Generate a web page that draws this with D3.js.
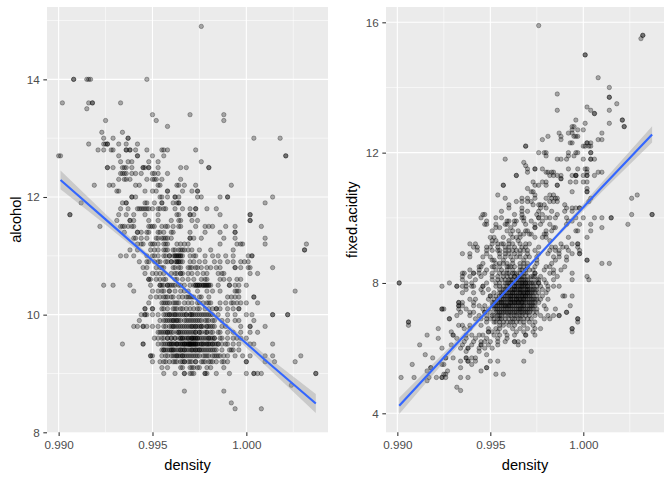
<!DOCTYPE html>
<html><head><meta charset="utf-8">
<script src="https://cdn.jsdelivr.net/npm/d3@7"></script>
<style>html,body{margin:0;padding:0;background:#fff}svg{display:block}text{font-family:"Liberation Sans",Arial,sans-serif}</style>
</head><body><div id="chart"></div>
<script>
const alcoholLevels=[14.9,14.0,13.6,13.5,13.4,13.3,13.2,13.1,13.0,12.9,12.8,12.7,12.6,12.5,12.4,12.3,12.2,12.1,12.0,11.9,11.8,11.7,11.6,11.5,11.4,11.3,11.2,11.1,11.0,10.9,10.8,10.7,10.6,10.5,10.4,10.3,10.2,10.1,10.0,9.9,9.8,9.7,9.6,9.5,9.4,9.3,9.2,9.1,9.0,8.8,8.7,8.5,8.4,
9.5,9.6,9.4,9.3,9.7,9.8,9.9,10.0,10.5,11.0,10.9,
9.5,9.6,9.4,9.7,9.8,10.0,10.5,9.2,9.3,11.0,10.9,9.9,10.1,10.2,10.3];
const alcoholDensities=[
[.9976],
[.9908,.9908,.9915,.9916,.9917,.9947],
[.9902,.9916,.9918,.9918,.9933],
[.9915],
[.9950,.9970,.9988],
[.9925,.9952,.9988],
[.9958],
[.9923,.9934],
[.9924,.9929,.9937,.9937,1.0004,1.0018],
[.9916,.9924,.9925,.9926,.9926,.9932,.9936,.9942],
[.9921,.9924,.9928,.9929,.9936,.9936,.9938,.9938,.9941,.9947,.9955,.9956,.9958,.9973],
[.9900,.9901,.9932,.9942,.9942,.9950,.9956,1.0021,1.0021],
[.9933,.9937,.9939,.9948,.9953,.9976],
[.9926,.9926,.9929,.9934,.9935,.9936,.9939,.9945,.9945,.9946,.9948,.9948,.9953,.9965,.9968,.9980,.9980],
[.9933,.9934,.9935,.9936,.9939,.9941,.9944,.9950,.9951,.9953,.9958],
[.9932,.9935,.9936,.9938,.9947,.9950,.9951,.9952,.9955,.9965],
[.9919,.9927,.9929,.9941,.9943,.9953,.9954,.9963,.9964,.9967,.9973,.9992],
[.9931,.9932,.9946,.9950,.9952,.9958,.9958,.9966,.9971,.9974,.9974],
[.9939,.9939,.9941,.9954,.9955,.9958,.9962,.9962,.9964,.9974,.9976,.9986,.9990,.9990,1.0014],
[.9912,.9934,.9936,.9936,.9946,.9947,.9951,.9955,.9955,.9961,.9963,.9964,.9964,1.0010],
[.9933,.9937,.9942,.9943,.9944,.9945,.9946,.9947,.9948,.9950,.9953,.9954,.9956,.9957,.9962,.9966,.9970,.9973,.9973,.9979,.9984],
[.9906,.9906,.9932,.9936,.9940,.9946,.9953,.9963,.9964,.9970,.9970,.9972,.9986,1.0002,1.0002],
[.9931,.9938,.9938,.9940,.9948,.9953,.9960,.9964,.9965,.9971,.9974,1.0002,1.0002],
[.9922,.9933,.9934,.9935,.9937,.9939,.9940,.9948,.9949,.9950,.9951,.9955,.9957,.9958,.9961,.9964,.9965,.9973,.9978,.9980,.9982,.9989,.9994,1.0008],
[.9935,.9942,.9942,.9944,.9947,.9948,.9953,.9954,.9956,.9960,.9961,.9970,.9978,.9986,.9994,.9994],
[.9940,.9941,.9944,.9947,.9952,.9953,.9955,.9956,.9957,.9958,.9960,.9970,.9970,.9972,.9976,.9988,.9994,1.0010],
[.9942,.9944,.9945,.9949,.9950,.9951,.9953,.9956,.9957,.9958,.9963,.9965,.9967,.9969,.9986,.9995,.9997,.9998,1.0010,1.0032],
[.9938,.9942,.9949,.9951,.9953,.9956,.9957,.9958,.9961,.9962,.9964,.9965,.9966,.9967,.9969,.9971,.9975,.9981,.9993,1.0031,1.0031],
[.9933,.9936,.9940,.9947,.9950,.9951,.9953,.9956,.9957,.9959,.9961,.9962,.9963,.9964,.9965,.9966,.9970,.9972,.9973,.9978,.9982,.9985,.9989,.9993,1.0001,1.0003,1.0003],
[.9943,.9947,.9948,.9951,.9953,.9954,.9957,.9958,.9960,.9962,.9963,.9964,.9965,.9966,.9970,.9972,.9975,.9978,.9983,.9986,.9990,.9993,.9997,.9999,1.0001],
[.9945,.9947,.9952,.9954,.9955,.9956,.9961,.9962,.9964,.9965,.9969,.9970,.9971,.9973,.9974,.9976,.9979,.9981,.9984,.9986,.9994,.9994,.9997,1.0001,1.0002,1.0014],
[.9946,.9950,.9952,.9954,.9956,.9960,.9962,.9963,.9965,.9965,.9966,.9969,.9971,.9974,.9977,.9979,.9985,.9987,.9988,1.0002,1.0006],
[.9948,.9948,.9949,.9952,.9954,.9956,.9957,.9962,.9963,.9966,.9969,.9972,.9976,.9978,.9979,.9986,.9988,.9991,.9995,.9997],
[.9924,.9929,.9938,.9949,.9954,.9954,.9956,.9958,.9959,.9961,.9962,.9964,.9965,.9967,.9972,.9973,.9974,.9975,.9977,.9978,.9979,.9980,.9981,.9985,.9991,.9991,.9994,.9996,1.0000],
[.9940,.9950,.9953,.9955,.9956,.9959,.9959,.9962,.9965,.9967,.9969,.9974,.9979,.9982,.9986,.9994,.9995,.9996,1.0026],
[.9949,.9952,.9954,.9956,.9958,.9961,.9964,.9966,.9969,.9971,.9972,.9975,.9980,.9990,.9992,.9994,.9996,1.0004,1.0004],
[.9948,.9955,.9956,.9957,.9958,.9961,.9962,.9964,.9967,.9971,.9974,.9977,.9979,.9981,.9986,.9989,.9992,.9993,.9995,.9997,1.0000,1.0006],
[.9946,.9946,.9950,.9950,.9955,.9956,.9961,.9963,.9965,.9968,.9970,.9972,.9975,.9978,.9980,.9982,.9984,.9984,.9986,.9990,.9993,.9996,.9996],
[.9944,.9946,.9946,.9947,.9950,.9953,.9956,.9957,.9959,.9961,.9962,.9964,.9966,.9968,.9970,.9970,.9971,.9973,.9975,.9977,.9979,.9980,.9982,.9985,.9990,.9994,1.0000,1.0003,1.0014,1.0014,1.0022,1.0022],
[.9943,.9954,.9956,.9957,.9959,.9961,.9962,.9963,.9965,.9968,.9971,.9973,.9975,.9978,.9980,.9982,.9983,.9987,.9990,.9994,.9996,1.0004],
[.9940,.9942,.9945,.9945,.9947,.9950,.9953,.9956,.9959,.9961,.9961,.9963,.9965,.9967,.9969,.9971,.9973,.9974,.9976,.9979,.9981,.9983,.9987,.9989,.9997,1.0002,1.0002,1.0010],
[.9953,.9954,.9956,.9958,.9958,.9960,.9964,.9964,.9966,.9969,.9971,.9973,.9975,.9979,.9981,.9985,.9986,.9990,.9993,.9997,1.0002,1.0006],
[.9951,.9953,.9955,.9958,.9960,.9962,.9965,.9966,.9969,.9971,.9971,.9972,.9973,.9974,.9978,.9980,.9981,.9983,.9986,.9987,.9990,.9993,.9995,.9997,1.0000],
[.9934,.9945,.9945,.9953,.9955,.9956,.9958,.9959,.9960,.9962,.9963,.9965,.9966,.9967,.9969,.9970,.9970,.9971,.9972,.9973,.9974,.9976,.9977,.9979,.9980,.9982,.9983,.9985,.9987,.9989,.9990,.9993,.9996,1.0002,1.0004,1.0014],
[.9955,.9956,.9956,.9959,.9960,.9961,.9963,.9965,.9966,.9967,.9969,.9971,.9973,.9974,.9975,.9977,.9979,.9982,.9984,.9987,.9991,.9992,.9993,.9996],
[.9949,.9949,.9950,.9955,.9957,.9958,.9962,.9963,.9963,.9965,.9966,.9968,.9971,.9973,.9975,.9978,.9980,.9982,.9984,.9986,.9988,.9990,.9994,.9998,1.0002,1.0010,1.0014,1.0029],
[.9950,.9954,.9956,.9957,.9959,.9961,.9963,.9965,.9967,.9967,.9969,.9971,.9973,.9976,.9978,.9980,.9982,.9984,.9987,.9988,.9990,1.0000,1.0000,1.0010,1.0015,1.0026],
[.9955,.9958,.9965,.9966,.9970,.9971,.9972,.9974,.9975,.9979,.9981,.9988],
[.9956,.9962,.9967,.9967,.9970,.9971,.9972,.9978,.9978,.9979,.9984,.9991,1.0000,1.0004,1.0004,1.0006,1.0008,1.0037,1.0037],
[1.0024],
[.9967,.9988],
[.9992],
[.9994,1.0008],
[.9963,.9965,.9967,.9968,.9969,.9970,.9971,.9972,.9973,.9975,.9977,.9978,.9980,.9982,.9985,.9959,.9961],
[.9964,.9966,.9968,.9970,.9972,.9974,.9976,.9979,.9983,.9956,.9960],
[.9964,.9967,.9970,.9972,.9975,.9978,.9981,.9962,.9958],
[.9960,.9964,.9967,.9969,.9972,.9977,.9985],
[.9963,.9968,.9972,.9975,.9978,.9959,.9955],
[.9962,.9966,.9970,.9975,.9972,.9977,.9957,.9980],
[.9960,.9964,.9969,.9972,.9976,.9979,.9958],
[.9960,.9963,.9967,.9972,.9976,.9981,.9958],
[.9973,.9975,.9977,.9979,.9955,.9960],
[.9962,.9964,.9959],
[.9963,.9960],
[.9961,.9964,.9966,.9968,.9969,.9970,.9971,.9972,.9973,.9974,.9976,.9979,.9981,.9984,.9957,.9960,.9963,.9967],
[.9962,.9965,.9967,.9969,.9971,.9973,.9975,.9977,.9980,.9982,.9958],
[.9961,.9965,.9968,.9971,.9973,.9976,.9980,.9983,.9957,.9960],
[.9961,.9965,.9967,.9970,.9973,.9976,.9979,.9982,.9957],
[.9960,.9964,.9968,.9971,.9973,.9976,.9979,.9982],
[.9959,.9962,.9965,.9968,.9971,.9974,.9978],
[.9970,.9974,.9976,.9978,.9980,.9958],
[.9966,.9970,.9973,.9977,.9981,.9962],
[.9961,.9966,.9970,.9974,.9979,.9983],
[.9963,.9965],
[.9964],
[.9961,.9963,.9967,.9970,.9974],
[.9958,.9962,.9966,.9974],
[.9959,.9963,.9969,.9980,.9975],
[.9957,.9960,.9968,.9970,.9976]
];
const acidityLevels=[15.9,15.6,15.5,15.0,14.3,14.0,13.8,13.7,13.5,13.4,13.3,13.2,13.0,12.9,12.8,12.7,12.6,12.5,12.4,12.3,12.2,12.0,11.9,11.8,11.7,11.6,11.5,11.4,11.3,11.2,11.1,11.0,10.9,10.8,10.7,10.6,10.5,10.4,10.3,10.2,10.1,10.0,9.9,9.8,9.7,9.6,9.5,9.4,9.3,9.2,9.1,9.0,8.9,8.8,8.7,8.6,8.5,8.4,8.3,8.2,8.1,8.0,7.9,7.8,7.7,7.6,7.5,7.4,7.3,7.2,7.1,7.0,6.9,6.8,6.7,6.6,6.5,6.4,6.3,6.2,6.1,6.0,5.9,5.8,5.7,5.6,5.5,5.4,5.3,5.2,5.1,5.0,4.8,4.7,
8.2,8.1,8.0,7.9,7.8,7.7,7.6,7.5,7.4,7.3,7.2,7.1,7.0,6.9,6.8,8.3,8.4,8.5,8.6,8.8,9.0,9.2,
8.0,7.9,7.8,7.7,7.6,7.5,7.4,7.3,7.2,7.1,8.1,8.2,8.3,8.5,8.9,9.1];
const acidityDensities=[
[.9976],[1.0032,1.0032],[1.0031],[1.0001,1.0001],[1.0008],[1.0014],[.9986],[1.0014,1.0014],[1.0018],[1.0002],
[1.0014,.9986,1.0004],[1.0006,1.0006],[1.0021,1.0021,.9996],[1.0014,1.0001],
[.9994,.9995,1.0022,1.0022],[.9994,.9997,1.0000],[1.0010,.9987,.9992,.9994],[.9988,.9995,.9996,.9997,.9981],
[.9978,.9988,1.0008,1.0010],[.9993,.9994,1.0002,1.0002,1.0004],[.9969,.9969,1.0000,1.0001,1.0003,1.0004],
[.9976,.9979,.9980,.9992,.9996,.9997,1.0004,1.0004],[.9980,.9992,.9995],
[.9958,.9986,.9988,.9991,1.0006,1.0000,1.0004,1.0004],[.9968],[.9969],
[.9970,.9974,.9974,.9978,.9992,1.0001,1.0002,.9997],
[.9970,.9980,.9981,.9983,.9984,1.0002,1.0008,1.0010],
[.9982,.9986,.9984,.9988,.9996,.9996,.9996,1.0000,1.0002,1.0002,.9964,.9964,.9994,1.0006],
[.9988,.9988],
[.9973,.9978,.9980,.9993,.9996,1.0000,1.0002],
[.9957,.9957,.9974,.9976,.9980,.9986,.9986],
[.9970,1.0002],
[.9972,.9973,.9994,1.0002,1.0002],
[.9954,.9974,.9982,.9984,1.0029],
[.9958,.9967,.9974,.9970,.9980,.9983,.9985,.9986,1.0004,1.0026],
[.9964,.9967,.9970,.9972,.9982,.9984,.9986,1.0003],
[.9960,.9973,.9976,.9977,.9979,.9990],
[.9960,.9967,.9977,.9980,.9991,.9994,.9996,.9998,.9998],
[.9956,.9967,.9970,.9976,.9983,.9990,.9994],
[.9947,.9946,.9963,.9967,.9975,.9978,.9986,1.0026,1.0037,1.0037],
[.9945,.9953,.9956,.9967,.9968,.9976,.9976,.9980,.9982,.9985,.9991,.9996,1.0000,1.0006,1.0010,1.0015,1.0015],
[.9948,.9959,.9960,.9963,.9964,.9968,.9972,.9978,.9992,.9994],
[.9947,.9948,.9953,.9958,.9959,.9963,.9969,.9974,.9977,.9982,.9991,.9998,1.0004,1.0024],
[1.0010,.9953,.9955,.9961,.9974,.9974,.9984,.9985],
[.9951,.9959,.9962,.9965,.9969,.9970,.9980,.9983,.9996,.9997,1.0004],
[.9961,.9966,.9968,.9971,.9972,.9979,.9980],
[.9950,.9952,.9957,.9962,.9964,.9966,.9974,.9978,.9980,.9992,1.0002],
[.9951,.9953,.9960,.9965,.9982],
[.9939,.9942,.9951,.9954,.9957,.9960,.9966,.9971,.9988,.9994,.9997,.9997],
[.9941,.9943,.9948,.9950,.9954,.9960,.9967,.9969,.9976,.9983,.9985,.9989,.9991,.9997],
[.9943,.9948,.9951,.9954,.9955,.9960,.9964,.9970,.9974,.9982,.9985,.9987,.9992,.9998],
[.9935,.9939,.9948,.9955,.9960,.9966,.9970,.9976,.9981,.9987,.9994,.9998,.9998],
[.9939,.9946,.9950,.9955,.9961,.9966,.9971,.9975,.9984,.9987,.9991],
[.9951,.9952,.9957,.9962,.9968,.9975,.9985,.9991,1.0002,1.0002],
[.9946,.9953,.9955,.9959,.9966,.9970,.9975,.9983,1.0014,1.0010],
[.9944,.9945,.9951,.9952,.9959,.9961,.9968,.9974,.9980,.9982,.9990],
[.9939,.9944,.9948,.9953,.9959,.9966,.9969,.9973,.9979,.9984,.9988],
[.9935,.9936,.9941,.9941,.9944,.9947,.9951,.9955,.9959,.9960,.9964,.9969,.9974,.9974,.9982,.9984,.9994],
[.9935,.9939,.9945,.9951,.9954,.9959,.9963,.9966,.9968,.9974,.9977,.9986,1.0002],
[.9935,.9942,.9951,.9954,.9960,.9964,.9967,.9970,.9975,.9976,.9979,.9984,.9994,1.0003],
[.9901,.9901,.9928,.9937,.9940,.9948,.9953,.9958,.9961,.9964,.9967,.9969,.9972,.9976,.9976,.9980],
[.9924,.9932,.9932,.9935,.9937,.9940,.9941,.9946,.9946,.9953,.9959,.9963,.9967,.9969,.9973,.9977,.9981,.9984,.9987],
[.9937,.9945,.9949,.9955,.9960,.9963,.9966,.9969,.9971,.9974,.9978,.9981],
[.9935,.9941,.9946,.9952,.9956,.9960,.9962,.9966,.9968,.9970,.9974,.9976,.9980],
[.9950,.9950,.9953,.9958,.9961,.9964,.9967,.9969,.9972,.9975,.9978,.9990,.9994,.9989],
[.9939,.9942,.9949,.9952,.9956,.9959,.9961,.9964,.9966,.9968,.9971,.9974,.9977,.9981],
[.9933,.9933,.9935,.9941,.9954,.9951,.9956,.9958,.9961,.9963,.9965,.9967,.9970,.9973,.9976],
[.9933,.9933,.9935,.9941,.9944,.9947,.9953,.9955,.9958,.9960,.9962,.9966,.9968,.9972,.9974,.9979,.9993],
[.9924,.9924,.9925,.9933,.9937,.9946,.9949,.9952,.9955,.9958,.9961,.9964,.9966,.9969,.9972,.9975,.9980,.9985],
[.9934,.9939,.9941,.9947,.9947,.9953,.9956,.9959,.9962,.9965,.9968,.9971,.9975,.9991,.9991],
[.9932,.9939,.9944,.9948,.9951,.9954,.9956,.9960,.9963,.9966,.9969,.9974,.9977,.9981,.9987,.9987,.9984],
[.9928,.9928,.9942,.9945,.9948,.9950,.9954,.9956,.9958,.9962,.9965,.9968,.9972,.9979,.9982,.9997,.9997],
[.9906,.9906,.9948,.9952,.9955,.9959,.9962,.9966,.9971,.9974,.9997],
[.9906,.9933,.9939,.9935,.9945,.9955,.9957,.9960,.9963,.9968,.9973],
[.9922,.9936,.9939,.9949,.9953,.9955,.9962,.9966,.9970,.9974,.9977,.9994,.9994],
[.9929,.9949,.9949,.9951,.9954,.9958,.9964,.9968,.9973,.9994],
[.9916,.9930,.9930,.9937,.9940,.9944,.9946,.9952,.9955,.9959,.9963,.9969,.9969,.9974],
[.9922,.9932,.9937,.9942,.9948,.9954,.9959],
[.9936,.9941,.9945,.9947,.9950,.9954,.9958,.9963,.9963,.9965,.9968],
[.9912,.9929,.9935,.9940,.9945,.9945,.9949,.9954,.9965],
[.9924,.9934,.9938,.9938,.9944,.9947,.9951],
[.9972,.9937,.9944],
[.9915,.9948],
[.9919,.9930,.9937,.9937,.9940,.9942,.9926,.9926],
[.9934,.9938,.9938,.9942,.9950,.9954,.9968],
[.9908,.9924,.9940,.9925],
[.9918,.9918,.9934,.9948,.9948],
[.9916,.9927,.9945],
[.9926,.9925,.9953,.9957],
[.9934,.9902,.9909,.9921,.9924,.9924,.9926,.9938,.9917],
[.9916],[.9932],[.9934],
[.9957,.9961,.9965,.9970,.9972],
[.9956,.9962,.9966,.9969,.9972,.9958],
[.9955,.9960,.9963,.9966,.9968,.9970,.9973],
[.9957,.9961,.9964,.9966,.9968,.9970,.9972],
[.9957,.9959,.9962,.9964,.9966,.9968,.9970,.9972,.9975],
[.9955,.9958,.9961,.9963,.9965,.9967,.9969,.9971,.9973],
[.9955,.9957,.9960,.9962,.9965,.9966,.9968,.9970,.9973],
[.9954,.9957,.9960,.9962,.9965,.9967,.9969,.9972,.9975],
[.9952,.9955,.9957,.9960,.9962,.9964,.9966,.9968,.9971,.9974],
[.9951,.9954,.9957,.9959,.9961,.9964,.9967,.9970,.9973],
[.9953,.9956,.9959,.9960,.9963,.9965,.9967,.9970,.9973],
[.9950,.9954,.9957,.9960,.9963,.9966,.9969,.9973],
[.9952,.9955,.9958,.9961,.9964,.9967,.9971],
[.9952,.9955,.9960,.9963,.9966,.9970],
[.9953,.9957,.9961,.9964,.9968],
[.9957,.9962,.9966],
[.9956,.9962,.9967,.9971],
[.9955,.9963,.9970],
[.9957,.9962,.9968],
[.9958,.9964,.9969],
[.9958,.9962,.9966,.9968],
[.9956,.9962,.9969],
[.9962,.9965,.9967,.9969,.9971,.9974,.9959],
[.9960,.9963,.9965,.9967,.9970,.9975,.9955],
[.9958,.9961,.9963,.9965,.9967,.9970,.9973],
[.9957,.9959,.9962,.9964,.9966,.9968,.9970,.9972],
[.9956,.9959,.9961,.9963,.9964,.9967,.9969,.9971],
[.9955,.9958,.9961,.9963,.9964,.9966,.9968,.9970,.9973],
[.9953,.9956,.9959,.9961,.9963,.9965,.9967,.9969,.9972],
[.9952,.9956,.9958,.9960,.9963,.9965,.9968,.9971],
[.9954,.9957,.9962,.9966,.9968,.9971],
[.9955,.9958,.9961,.9964,.9967,.9970],
[.9961,.9965,.9968],
[.9963,.9967,.9973],
[.9963,.9968],
[.9960,.9966],
[.9963,.9958],
[.9963,.9958]
];
const fitDensity=[.9901,.9925,.9950,.9967,.9985,1.0010,1.0037];
const alcoholFit=[12.29,11.62,10.92,10.44,9.93,9.23,8.49];
const alcoholLow=[12.13,11.53,10.88,10.41,9.89,9.14,8.33];
const alcoholHigh=[12.45,11.71,10.96,10.47,9.97,9.32,8.65];
const acidityFit=[4.23,5.71,7.24,8.29,9.40,10.94,12.56];
const acidityLow=[3.98,5.57,7.18,8.24,9.34,10.80,12.31];
const acidityHigh=[4.48,5.85,7.30,8.34,9.46,11.08,12.81];
const densityTicks=[.990,.995,1.000];
const densityMinor=[.9925,.9975,1.0025];
const alcoholTicks=[8,10,12,14];
const alcoholMinor=[9,11,13,15];
const acidityTicks=[4,8,12,16];
const acidityMinor=[6,10,14];

const svg=d3.select("#chart").append("svg").attr("width",672).attr("height",480);
svg.append("rect").attr("width",672).attr("height",480).attr("fill","#fff");

function panel(o){
  const x=d3.scaleLinear().domain(o.xDomain).range([o.left,o.right]);
  const y=d3.scaleLinear().domain(o.yDomain).range([432.3,7]);
  const g=svg.append("g");
  g.append("rect").attr("x",o.left).attr("y",7).attr("width",o.right-o.left).attr("height",425.3).attr("fill","#EBEBEB");
  const grid=(vals,w)=>{
    g.append("g").selectAll("line").data(vals.filter(v=>y(v)>7&&y(v)<432.3)).join("line")
      .attr("x1",o.left).attr("x2",o.right).attr("y1",d=>y(d)).attr("y2",d=>y(d)).attr("stroke","#fff").attr("stroke-width",w);
  };
  const gridX=(vals,w)=>{
    g.append("g").selectAll("line").data(vals).join("line")
      .attr("y1",7).attr("y2",432.3).attr("x1",d=>x(d)).attr("x2",d=>x(d)).attr("stroke","#fff").attr("stroke-width",w);
  };
  grid(o.yMinor,.55);gridX(densityMinor,.55);grid(o.yTicks,1.1);gridX(densityTicks,1.1);

  const pts=o.levels.flatMap((lv,i)=>o.densities[i].map(d=>({d,lv})));
  g.append("g").selectAll("circle").data(pts).join("circle")
    .attr("cx",p=>x(p.d)).attr("cy",p=>y(p.lv)).attr("r",2.2)
    .attr("fill","#000").attr("fill-opacity",.3)
    .attr("stroke","#000").attr("stroke-opacity",.3).attr("stroke-width",.94);

  const idx=d3.range(fitDensity.length);
  g.append("path").attr("d",d3.area().x(i=>x(fitDensity[i])).y0(i=>y(o.low[i])).y1(i=>y(o.high[i]))(idx))
    .attr("fill","#999").attr("fill-opacity",.4);
  g.append("path").attr("d",d3.line().x(i=>x(fitDensity[i])).y(i=>y(o.fit[i]))(idx))
    .attr("fill","none").attr("stroke","#3366FF").attr("stroke-width",2.13);

  const ax=g.append("g").attr("transform","translate(0,432.3)").call(d3.axisBottom(x).tickValues(densityTicks).tickFormat(d3.format(".3f")).tickSize(3.67).tickPadding(4.5));
  const ay=g.append("g").attr("transform",`translate(${o.left},0)`).call(d3.axisLeft(y).tickValues(o.yTicks).tickFormat(d3.format("d")).tickSize(3.67).tickPadding(3.7));
  [ax,ay].forEach(a=>{
    a.select(".domain").remove();
    a.selectAll("line").attr("stroke","#333").attr("stroke-width",1.07);
    a.selectAll("text").attr("fill","#4D4D4D").style("font-size","11.7px").style("font-family",'"Liberation Sans",Arial,sans-serif');
  });
  g.append("text").attr("x",(o.left+o.right)/2).attr("y",470).attr("text-anchor","middle").attr("fill","#000").style("font-size","14.67px").text("density");
  g.append("text").attr("transform",`translate(${o.titleX},219.6) rotate(-90)`).attr("text-anchor","middle").attr("fill","#000").style("font-size","14.67px").text(o.title);
}

panel({left:47,right:328,xDomain:[.98938,1.00435],yDomain:[8,15.23],levels:alcoholLevels,densities:alcoholDensities,
  fit:alcoholFit,low:alcoholLow,high:alcoholHigh,yTicks:alcoholTicks,yMinor:alcoholMinor,title:"alcohol",titleX:20.5});
panel({left:386,right:664,xDomain:[.98939,1.00434],yDomain:[3.417,16.47],levels:acidityLevels,densities:acidityDensities,
  fit:acidityFit,low:acidityLow,high:acidityHigh,yTicks:acidityTicks,yMinor:acidityMinor,title:"fixed.acidity",titleX:357});
</script></body></html>
